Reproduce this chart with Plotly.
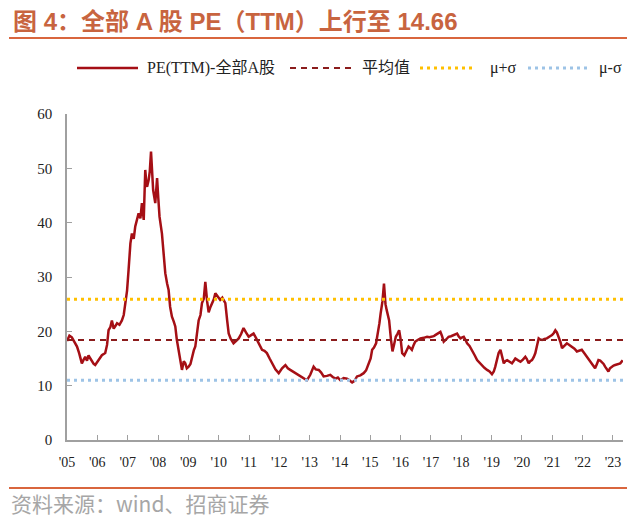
import plotly.graph_objects as go

# Decimal-year positions and PE(TTM) values
years = [2005.00, 2005.08, 2005.16, 2005.25, 2005.33, 2005.40, 2005.44, 2005.49, 2005.55, 2005.60,
         2005.66, 2005.71, 2005.77, 2005.82, 2005.88, 2005.93, 2006.04, 2006.10, 2006.15, 2006.26,
         2006.32, 2006.37, 2006.43, 2006.48, 2006.54, 2006.60, 2006.65, 2006.73, 2006.81, 2006.87,
         2006.92, 2006.98, 2007.03, 2007.09, 2007.14, 2007.20, 2007.25, 2007.30, 2007.36, 2007.42,
         2007.47, 2007.53, 2007.58, 2007.62, 2007.64, 2007.69, 2007.73, 2007.77, 2007.80, 2007.84,
         2007.91, 2007.97, 2008.01, 2008.05, 2008.13, 2008.18, 2008.24, 2008.30, 2008.35, 2008.40,
         2008.46, 2008.52, 2008.57, 2008.62, 2008.68, 2008.74, 2008.79, 2008.85, 2008.90, 2008.95,
         2009.01, 2009.07, 2009.12, 2009.18, 2009.23, 2009.29, 2009.34, 2009.40, 2009.45, 2009.51,
         2009.56, 2009.62, 2009.67, 2009.73, 2009.78, 2009.84, 2009.89, 2009.95, 2010.00, 2010.05,
         2010.12, 2010.22, 2010.28, 2010.33, 2010.40, 2010.49, 2010.57, 2010.66, 2010.74, 2010.82,
         2010.90, 2010.99, 2011.07, 2011.15, 2011.23, 2011.32, 2011.43, 2011.51, 2011.59, 2011.68,
         2011.76, 2011.87, 2011.98, 2012.09, 2012.20, 2012.28, 2012.36, 2012.44, 2012.52, 2012.60,
         2012.69, 2012.80, 2012.91, 2013.02, 2013.13, 2013.20, 2013.30, 2013.38, 2013.46, 2013.57,
         2013.68, 2013.76, 2013.85, 2013.93, 2014.01, 2014.12, 2014.23, 2014.31, 2014.40, 2014.48,
         2014.56, 2014.67, 2014.78, 2014.86, 2014.95, 2015.01, 2015.06, 2015.12, 2015.19, 2015.25,
         2015.30, 2015.34, 2015.40, 2015.45, 2015.50, 2015.54, 2015.58, 2015.62, 2015.68, 2015.73,
         2015.78, 2015.84, 2015.90, 2015.95, 2016.00, 2016.05, 2016.12, 2016.19, 2016.26, 2016.32,
         2016.37, 2016.43, 2016.48, 2016.56, 2016.65, 2016.76, 2016.87, 2016.95, 2017.03, 2017.09,
         2017.14, 2017.22, 2017.31, 2017.36, 2017.42, 2017.50, 2017.58, 2017.66, 2017.75, 2017.80,
         2017.86, 2017.91, 2017.97, 2018.03, 2018.08, 2018.14, 2018.19, 2018.27, 2018.35, 2018.44,
         2018.52, 2018.60, 2018.68, 2018.76, 2018.85, 2018.93, 2019.01, 2019.07, 2019.12, 2019.18,
         2019.23, 2019.29, 2019.34, 2019.40, 2019.45, 2019.51, 2019.59, 2019.67, 2019.72, 2019.78,
         2019.86, 2019.95, 2020.03, 2020.11, 2020.16, 2020.22, 2020.27, 2020.33, 2020.39, 2020.44,
         2020.50, 2020.55, 2020.60, 2020.66, 2020.74, 2020.82, 2020.90, 2020.99, 2021.05, 2021.10,
         2021.15, 2021.21, 2021.27, 2021.32, 2021.40, 2021.48, 2021.56, 2021.65, 2021.73, 2021.81,
         2021.89, 2021.97, 2022.05, 2022.14, 2022.22, 2022.30, 2022.36, 2022.41, 2022.47, 2022.52,
         2022.58, 2022.63, 2022.69, 2022.74, 2022.80, 2022.85, 2022.90, 2022.96, 2023.02, 2023.07,
         2023.15, 2023.24, 2023.32]
pe_ttm = [18.2, 19.2, 18.9, 18.0, 17.2, 16.0, 15.3, 14.1, 14.8, 15.3,
          14.6, 15.6, 15.0, 14.4, 14.0, 13.8, 14.7, 15.2, 15.6, 16.0,
          17.5, 20.2, 20.8, 22.0, 20.5, 21.0, 21.5, 21.2, 22.0, 23.0,
          25.0, 27.5, 31.3, 36.2, 38.0, 37.0, 39.3, 40.5, 41.7, 40.8,
          43.6, 40.5, 49.7, 47.0, 46.6, 47.8, 49.5, 53.1, 49.0, 46.0,
          43.6, 48.2, 44.5, 41.1, 38.0, 34.0, 30.7, 28.8, 27.6, 24.5,
          22.7, 21.8, 20.9, 18.5, 16.6, 15.0, 12.9, 14.5, 14.1, 13.2,
          13.5, 14.0, 15.3, 16.5, 17.2, 19.5, 22.0, 23.0, 25.2, 26.0,
          29.1, 25.5, 23.5, 24.5, 25.2, 25.9, 27.0, 26.5, 26.3, 25.8,
          26.2, 25.2, 22.0, 19.6, 18.6, 17.8, 18.2, 18.7, 19.5, 20.6,
          19.8, 19.0, 19.3, 19.6, 18.8, 17.8, 16.6, 16.4, 16.0, 15.0,
          14.1, 13.0, 12.3, 13.2, 13.8, 13.2, 12.9, 12.6, 12.3, 12.0,
          11.7, 11.4, 11.0, 12.0, 13.5, 13.0, 12.9, 12.4, 11.7, 11.8,
          12.0, 11.6, 11.3, 11.5, 11.0, 11.4, 11.3, 11.0, 10.6, 10.9,
          11.7, 11.9, 12.3, 12.8, 14.1, 15.0, 16.6, 17.0, 17.8, 19.5,
          21.5, 23.3, 25.5, 28.8, 25.0, 23.9, 23.0, 22.0, 18.5, 16.3,
          17.5, 19.0, 19.6, 20.2, 18.5, 16.0, 15.6, 16.3, 17.2, 16.9,
          16.6, 17.5, 18.1, 18.4, 18.7, 18.8, 19.0, 18.9, 19.0, 19.1,
          19.3, 19.6, 19.9, 19.2, 18.1, 18.5, 19.0, 19.1, 19.3, 19.5,
          19.6, 19.1, 18.7, 18.9, 19.0, 18.4, 17.8, 17.3, 16.6, 15.6,
          14.7, 14.2, 13.8, 13.3, 12.9, 12.6, 12.1, 12.6, 13.5, 14.8,
          16.0, 16.6, 15.2, 14.1, 14.5, 14.7, 14.4, 14.1, 14.5, 15.0,
          14.7, 14.4, 14.8, 15.3, 14.9, 14.1, 14.5, 14.7, 15.3, 16.0,
          17.5, 18.7, 18.5, 18.4, 18.6, 18.7, 19.0, 19.3, 19.7, 20.2,
          19.8, 19.0, 18.0, 16.9, 17.4, 17.8, 17.5, 17.2, 16.8, 16.3,
          16.5, 16.6, 16.0, 15.3, 14.8, 14.1, 13.6, 13.2, 14.0, 14.7,
          14.6, 14.4, 14.0, 13.5, 13.0, 12.6, 13.2, 13.5, 13.7, 13.8,
          14.0, 14.1, 14.66]

mean_val = 18.4
plus_sigma = 25.9
minus_sigma = 11.0

series_names = ["PE(TTM)-全部A股", "平均值", "μ+σ", "μ-σ"]

tick_years = list(range(2005, 2024))
tick_labels = ["'%02d" % (y % 100) for y in tick_years]

x_start, x_end = 2005.0, 2023.33

serif = "Liberation Serif, Times New Roman, Noto Sans CJK SC, serif"
cjk = "Noto Sans CJK SC, sans-serif"
title_font = "Liberation Sans, Arial, Noto Sans CJK SC, sans-serif"

c_pe, c_mean, c_plus, c_minus = "#A50F15", "#8B1C1C", "#FFC000", "#9DC3E6"
w_pe, w_mean, w_dot = 2.5, 2, 3
d_mean, d_dot = "6px,5px", "3px,4px"

fig = go.Figure()
fig.add_trace(go.Scatter(x=years, y=pe_ttm, mode="lines", name=series_names[0],
                         line=dict(color=c_pe, width=w_pe)))
fig.add_trace(go.Scatter(x=[x_start, x_end], y=[mean_val, mean_val], mode="lines", name=series_names[1],
                         line=dict(color=c_mean, width=w_mean, dash=d_mean)))
fig.add_trace(go.Scatter(x=[x_start, x_end], y=[plus_sigma, plus_sigma], mode="lines", name=series_names[2],
                         line=dict(color=c_plus, width=w_dot, dash=d_dot)))
fig.add_trace(go.Scatter(x=[x_start, x_end], y=[minus_sigma, minus_sigma], mode="lines", name=series_names[3],
                         line=dict(color=c_minus, width=w_dot, dash=d_dot)))

# Pixel helpers for a 640x520 canvas with plot area x:67-623, y:114-440
L, R, T, B = 67, 623, 114, 440
def px(x):
    return (x - L) / (R - L)
def py(y):
    return (B - y) / (B - T)

rule_color = "#D9663E"
leg_y = py(68)
legend_items = [  # (x0, x1, text_x, color, width, dash)
    (77, 138, 145, c_pe, 2.5, "solid"),
    (290, 353, 360, c_mean, w_mean, d_mean),
    (420, 476, 488, c_plus, w_dot, d_dot),
    (528, 590, 597, c_minus, w_dot, d_dot),
]
shapes = [
    dict(type="line", xref="paper", yref="paper", x0=px(9), x1=px(627), y0=py(38), y1=py(38),
         line=dict(color=rule_color, width=2)),
    dict(type="line", xref="paper", yref="paper", x0=px(9), x1=px(627), y0=py(488), y1=py(488),
         line=dict(color=rule_color, width=2)),
]
annotations = [
    dict(text="资料来源：wind、招商证券", xref="paper", yref="paper", x=px(9), y=py(503),
         xanchor="left", yanchor="middle", showarrow=False,
         font=dict(family=cjk, size=21, color="#A6A6A6")),
]
for (x0, x1, tx, col, w, dsh), name in zip(legend_items, series_names):
    shapes.append(dict(type="line", xref="paper", yref="paper", x0=px(x0), x1=px(x1),
                       y0=leg_y, y1=leg_y, line=dict(color=col, width=w, dash=dsh)))
    annotations.append(dict(text=name, xref="paper", yref="paper", x=px(tx), y=leg_y,
                            xanchor="left", yanchor="middle", showarrow=False,
                            font=dict(family=serif, size=16, color="#222")))

fig.update_layout(
    width=640, height=520,
    margin=dict(l=L, r=640 - R, t=T, b=520 - B),
    paper_bgcolor="white", plot_bgcolor="white",
    showlegend=False,
    title=dict(text="<b>图 4：全部 A 股 PE（TTM）上行至 14.66</b>", x=13/640, xanchor="left",
               y=1-22/520, yanchor="middle", font=dict(family=title_font, size=24, color="#C8643F")),
    xaxis=dict(range=[x_start, x_end], tickmode="array", tickvals=tick_years, ticktext=tick_labels,
               showgrid=False, zeroline=False, showline=True, linecolor="#A0A0A0", linewidth=1.5,
               ticks="inside", ticklen=5, tickcolor="#A0A0A0", ticklabelstandoff=8,
               tickfont=dict(family=serif, size=14, color="#222")),
    yaxis=dict(range=[0, 60], tickmode="array", tickvals=[0, 10, 20, 30, 40, 50, 60],
               showgrid=False, zeroline=False, showline=True, linecolor="#A0A0A0", linewidth=1.5,
               ticks="inside", ticklen=5, tickcolor="#A0A0A0", ticklabelstandoff=10,
               tickfont=dict(family=serif, size=15, color="#222")),
    shapes=shapes,
    annotations=annotations,
)

fig.write_html("out.html")
